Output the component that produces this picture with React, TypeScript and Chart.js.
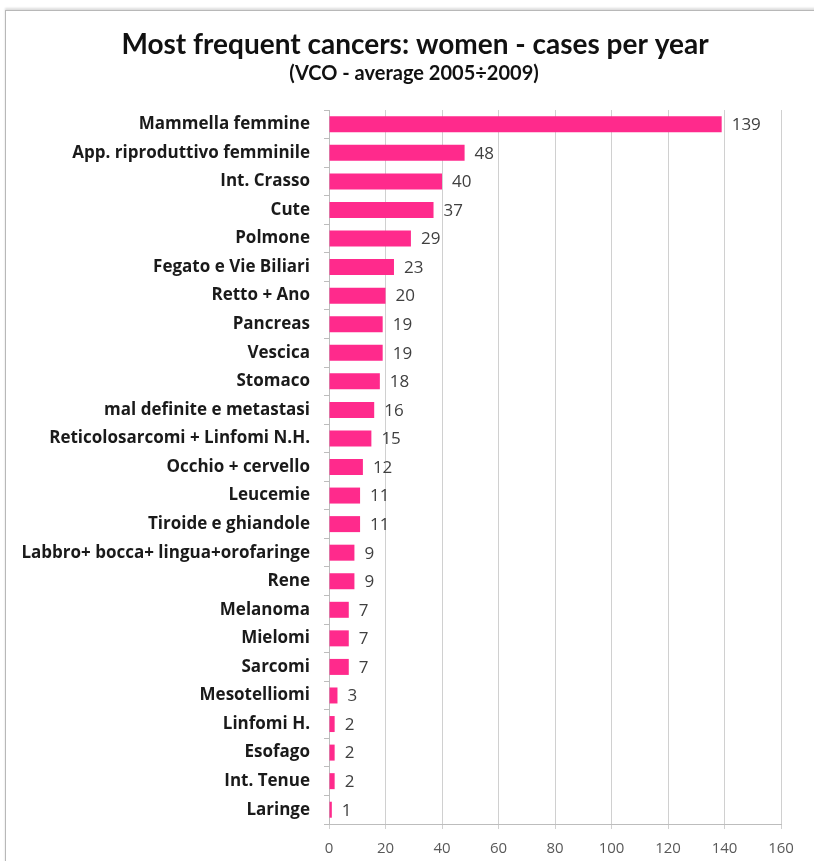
import React, { useEffect, useRef } from "react";
import { Chart, registerables } from "chart.js";

Chart.register(...registerables);

const categories = [
  "Mammella femmine",
  "App. riproduttivo femminile",
  "Int. Crasso",
  "Cute",
  "Polmone",
  "Fegato e Vie Biliari",
  "Retto + Ano",
  "Pancreas",
  "Vescica",
  "Stomaco",
  "mal definite e metastasi",
  "Reticolosarcomi + Linfomi N.H.",
  "Occhio + cervello",
  "Leucemie",
  "Tiroide e ghiandole",
  "Labbro+ bocca+ lingua+orofaringe",
  "Rene",
  "Melanoma",
  "Mielomi",
  "Sarcomi",
  "Mesotelliomi",
  "Linfomi H.",
  "Esofago",
  "Int. Tenue",
  "Laringe",
];

const cases = [139, 48, 40, 37, 29, 23, 20, 19, 19, 18, 16, 15, 12, 11, 11, 9, 9, 7, 7, 7, 3, 2, 2, 2, 1];

const xTicks = [0, 20, 40, 60, 80, 100, 120, 140, 160];

const titleText = "Most frequent cancers: women - cases per year";
const subtitleText = "(VCO - average 2005\u00f72009)";

const TITLE_FONT = "Lato, 'Liberation Sans', sans-serif";
const FONT = "'Open Sans', 'Liberation Sans', sans-serif";

export default function App() {
  const ref = useRef<HTMLCanvasElement | null>(null);

  useEffect(() => {
    document.body.style.margin = "0";
    const canvas = ref.current;
    if (!canvas) return;

    const labelPlugin = {
      id: "valueLabels",
      afterDatasetsDraw(chart: any) {
        const ctx = chart.ctx;
        const meta = chart.getDatasetMeta(0);
        ctx.save();
        ctx.font = `17px ${FONT}`;
        ctx.fillStyle = "#404040";
        ctx.textAlign = "left";
        ctx.textBaseline = "middle";
        meta.data.forEach((bar: any, i: number) => {
          ctx.fillText(String(cases[i]), bar.x + 10, bar.y + 1);
        });
        ctx.restore();
      },
    };

    const titlePlugin = {
      id: "customTitle",
      afterDraw(chart: any) {
        const ctx = chart.ctx;
        ctx.save();
        ctx.fillStyle = "#111";
        ctx.textAlign = "center";
        ctx.textBaseline = "middle";
        ctx.font = `bold 28px ${TITLE_FONT}`;
        ctx.fillText(titleText, 415, 45);
        ctx.font = `bold 20px ${TITLE_FONT}`;
        ctx.fillText(subtitleText, 414, 74);
        ctx.restore();
      },
    };

    const chart = new Chart(canvas, {
      type: "bar",
      data: {
        labels: categories,
        datasets: [
          {
            data: cases,
            backgroundColor: "#FF2A8C",
            borderWidth: 0,
            categoryPercentage: 1,
            barPercentage: 0.56,
          },
        ],
      },
      options: {
        indexAxis: "y",
        animation: false,
        responsive: false,
        maintainAspectRatio: false,
        layout: { padding: { top: 110, left: 0, right: 33, bottom: 0 } },
        plugins: {
          legend: { display: false },
          title: { display: false },
          tooltip: { enabled: false },
        },
        scales: {
          x: {
            min: 0,
            max: 160,
            afterBuildTicks(scale: any) {
              scale.ticks = xTicks.map((v) => ({ value: v }));
            },
            afterFit(scale: any) {
              scale.height = 37;
            },
            grid: {
              color: "#d0d0d0",
              lineWidth: 1,
              tickLength: 5,
              drawTicks: true,
            },
            border: { display: true, color: "#bdbdbd" },
            ticks: {
              color: "#595959",
              font: { family: FONT, size: 15 },
              padding: 11,
            },
          },
          y: {
            afterFit(scale: any) {
              scale.width = 329;
            },
            grid: {
              offset: true,
              drawOnChartArea: false,
              tickLength: 5,
              color: "#bdbdbd",
            },
            border: { display: true, color: "#bdbdbd" },
            ticks: {
              color: "#1a1a1a",
              font: { family: FONT, size: 17, weight: "bold" },
              padding: 14,
              autoSkip: false,
            },
          },
        },
      },
      plugins: [labelPlugin, titlePlugin],
    } as any);

    return () => chart.destroy();
  }, []);

  return (
    <div style={{ position: "relative", width: 814, height: 861, background: "#fff" }}>
      <div
        style={{
          position: "absolute",
          left: 5,
          top: 10,
          width: 810,
          height: 852,
          border: "1px solid #b8b8b8",
          boxShadow: "0 -2px 2px #ddd",
        }}
      />
      <canvas
        ref={ref}
        width={814}
        height={861}
        style={{ position: "absolute", left: 0, top: 0, width: 814, height: 861 }}
      />
    </div>
  );
}
